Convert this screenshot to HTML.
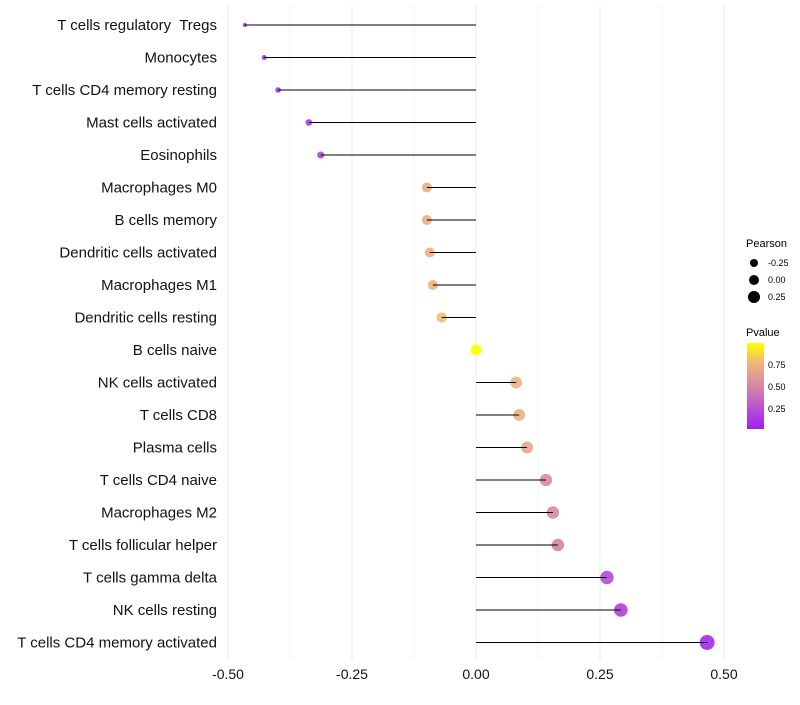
<!DOCTYPE html>
<html><head><meta charset="utf-8"><style>
body{margin:0;background:#fff}
svg{font-family:"Liberation Sans",Arial,sans-serif}
text{white-space:pre}
</style></head><body>
<svg id="c" width="800" height="700">
<defs><linearGradient id="pg" x1="0" y1="1" x2="0" y2="0">
<stop offset="0" stop-color="#a020f0"/><stop offset="0.3" stop-color="#c05cc8"/><stop offset="0.52" stop-color="#d98ba0"/><stop offset="0.77" stop-color="#f0b57a"/><stop offset="1" stop-color="#ffff00"/></linearGradient></defs>
<g id="grid"></g><g id="marks"></g><g id="labels"></g>
<g font-size="10">
<text x="746" y="247" font-size="11">Pearson</text>
<circle cx="754" cy="263" r="4" fill="#000"/><text x="768" y="266" font-size="9">-0.25</text>
<circle cx="754" cy="280" r="5" fill="#000"/><text x="768" y="283" font-size="9">0.00</text>
<circle cx="754" cy="297" r="6" fill="#000"/><text x="768" y="300" font-size="9">0.25</text>
<text x="746" y="336" font-size="11">Pvalue</text>
<rect x="747" y="343" width="17" height="86" fill="url(#pg)"/>
<text x="768" y="368" font-size="9">0.75</text><text x="768" y="390" font-size="9">0.50</text><text x="768" y="412" font-size="9">0.25</text>
</g>
</svg>
<script>
const cells=["T cells regulatory  Tregs","Monocytes","T cells CD4 memory resting","Mast cells activated","Eosinophils","Macrophages M0","B cells memory","Dendritic cells activated","Macrophages M1","Dendritic cells resting","B cells naive","NK cells activated","T cells CD8","Plasma cells","T cells CD4 naive","Macrophages M2","T cells follicular helper","T cells gamma delta","NK cells resting","T cells CD4 memory activated"];
const pearson=[-0.466,-0.427,-0.399,-0.337,-0.313,-0.099,-0.099,-0.093,-0.087,-0.069,0,0.081,0.087,0.103,0.141,0.155,0.165,0.264,0.292,0.466];
const pvalue=[0.03,0.06,0.09,0.15,0.18,0.72,0.72,0.74,0.76,0.8,1,0.74,0.74,0.68,0.52,0.5,0.48,0.2,0.16,0.04];
const ticks=[-0.5,-0.25,0,0.25,0.5];
const tickLabels=["-0.50","-0.25","0.00","0.25","0.50"];
const NS="http://www.w3.org/2000/svg";
const x=v=>476+v*496, y=i=>25+i*32.5;
function mk(t,a,p){const e=document.createElementNS(NS,t);for(const k in a)e.setAttribute(k,a[k]);p.appendChild(e);return e;}
const stops=[[0,[160,32,240]],[0.3,[192,92,200]],[0.52,[217,139,160]],[0.77,[240,181,122]],[1,[255,255,0]]];
function col(p){for(let i=1;i<stops.length;i++){if(p<=stops[i][0]){const a=stops[i-1],b=stops[i],t=(p-a[0])/(b[0]-a[0]);return "rgb("+a[1].map((c,j)=>Math.round(c+(b[1][j]-c)*t)).join(",")+")";}}return "rgb(255,255,0)";}
const g=document.getElementById('grid'),m=document.getElementById('marks'),l=document.getElementById('labels');
for(let k=-0.5;k<=0.5001;k+=0.125){const gl=mk('line',{x1:x(k),x2:x(k),y1:5,y2:660,stroke:Math.abs((k*4)%1)<1e-6?'#ebebeb':'#f3f3f3','stroke-width':1},g);

}
ticks.forEach((t,i)=>{const tx=mk('text',{x:x(t),y:679,'text-anchor':'middle','font-size':14,fill:'#111'},l);tx.textContent=tickLabels[i];

});
cells.forEach((c,i)=>{
const tx=mk('text',{x:217,y:y(i)+5,'text-anchor':'end','font-size':15,fill:'#111'},l);tx.textContent=c;


const r=Math.sqrt(Math.max(3,30+55.8*pearson[i]));
const pt=mk('circle',{cx:x(pearson[i]),cy:y(i),r:r,fill:col(pvalue[i]),'fill-opacity':0.9},m);


if(pearson[i]!==0){const ln=mk('line',{x1:x(0),x2:x(pearson[i]),y1:y(i),y2:y(i),stroke:'#000','stroke-width':1},m);

}
});
</script>
</body></html>
